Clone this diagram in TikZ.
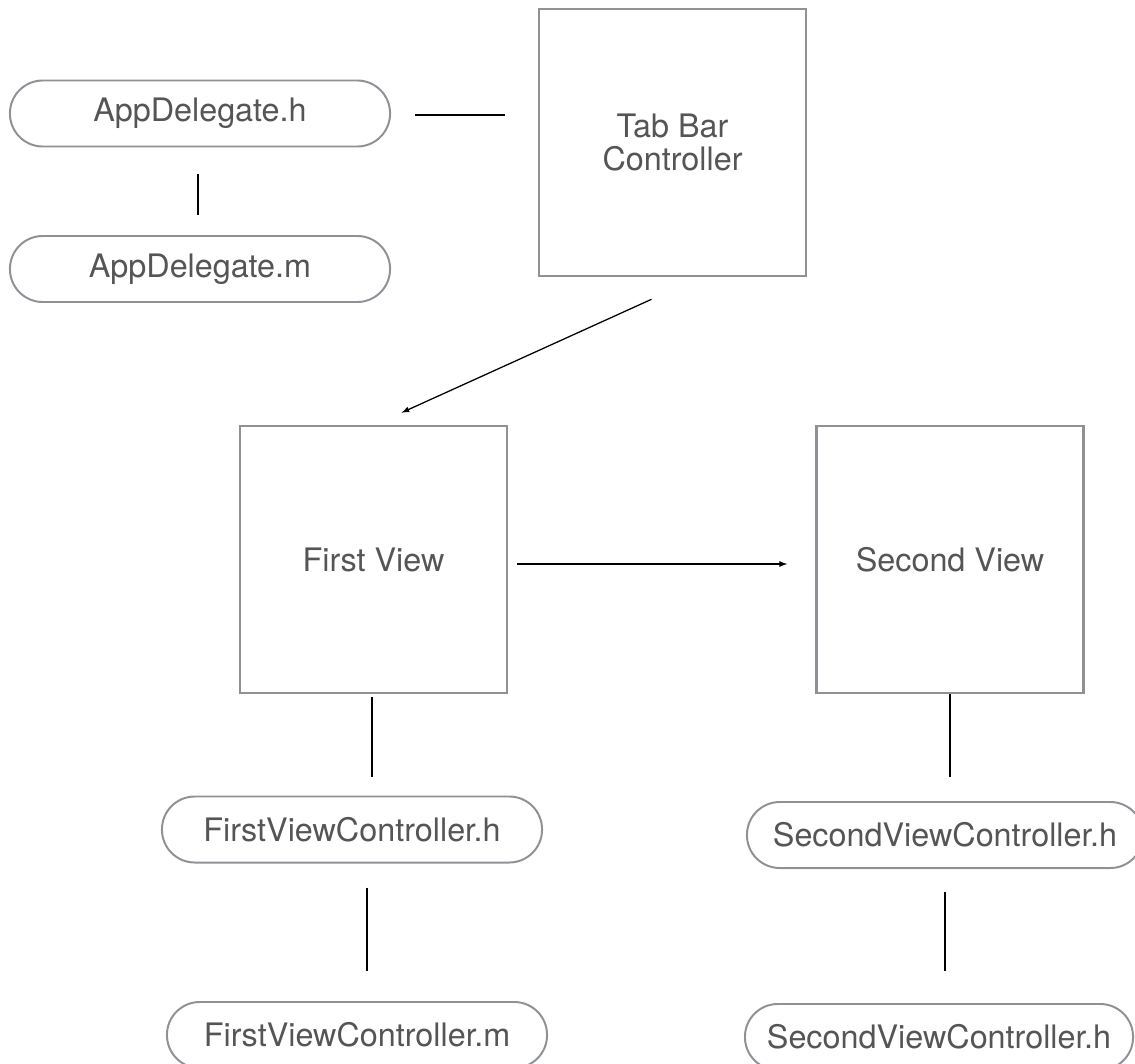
\documentclass[tikz,border=0pt]{standalone}
\usepackage{fontspec}
\setmainfont{TeX Gyre Heros}
\usepackage{tikz}
\usetikzlibrary{arrows}

\definecolor{boxgray}{HTML}{8E9196}
\definecolor{textgray}{HTML}{555555}

\tikzset{
	view/.style={draw=boxgray, line width=1.8pt, minimum width=6.675cm, minimum height=6.675cm, align=center, text=textgray, font={\fontsize{23}{23}\selectfont}},
	file/.style={draw=boxgray, line width=1.4pt, minimum width=9.5cm, minimum height=1.65cm, rounded corners=0.82cm, text=textgray, font={\fontsize{23}{23}\selectfont}},
	link/.style={line width=0.9pt}
}

\begin{document}
\begin{tikzpicture}[x=0.025cm, y=-0.025cm]
		\clip (0,0) rectangle (1135,1063);
		\useasboundingbox (0,0) rectangle (1135,1063);

		% app delegate
		\node[file] (adh) at (200,113.5) {AppDelegate.h};
		\node[file] (adm) at (200,269) {AppDelegate.m};

		% tab bar
		\node[view] (tab) at (672.5,142.5) {Tab Bar\\Controller};

		% views
		\node[view] (fv) at (373.5,559.5) {First View};
		\node[view] (sv) at (950,559.5) {Second View};

		% controllers
		\node[file] (fvh) at (352,829.5) {FirstViewController.h};
		\node[file] (fvm) at (357,1035) {FirstViewController.m};
		\node[file, minimum width=9.9cm] (svh) at (945,835) {SecondViewController.h};
		\node[file, minimum width=9.7cm] (svm) at (939,1037) {SecondViewController.h};

		% links
		\draw[link] ([shift={(24,1.5)}]adh.east) -- ([shift={(-33,1.5)}]adh.east -| tab.west);
		\draw[link] ([shift={(-2,27)}]adh.south) -- ([shift={(-2,-20)}]adm.north);
		\draw[link, -latex] ([shift={(-21,22)}]tab.south) -- ([shift={(28,-12)}]fv.north);
		\draw[link, -latex] ([shift={(9,4.5)}]fv.east) -- ([shift={(-28,4.5)}]sv.west);
		\draw[link] ([shift={(-1.5,3)}]fv.south) -- ([shift={(-1.5,-19)}]fv.south |- fvh.north);
		\draw[link] ([shift={(15,24)}]fvh.south) -- ([shift={(15,-30)}]fvh.south |- fvm.north);
		\draw[link] ([shift={(0,0)}]sv.south) -- ([shift={(0,-24)}]sv.south |- svh.north);
		\draw[link] ([shift={(0,23)}]svh.south) -- ([shift={(0,-32)}]svh.south |- svm.north);
	\end{tikzpicture}
\end{document}
